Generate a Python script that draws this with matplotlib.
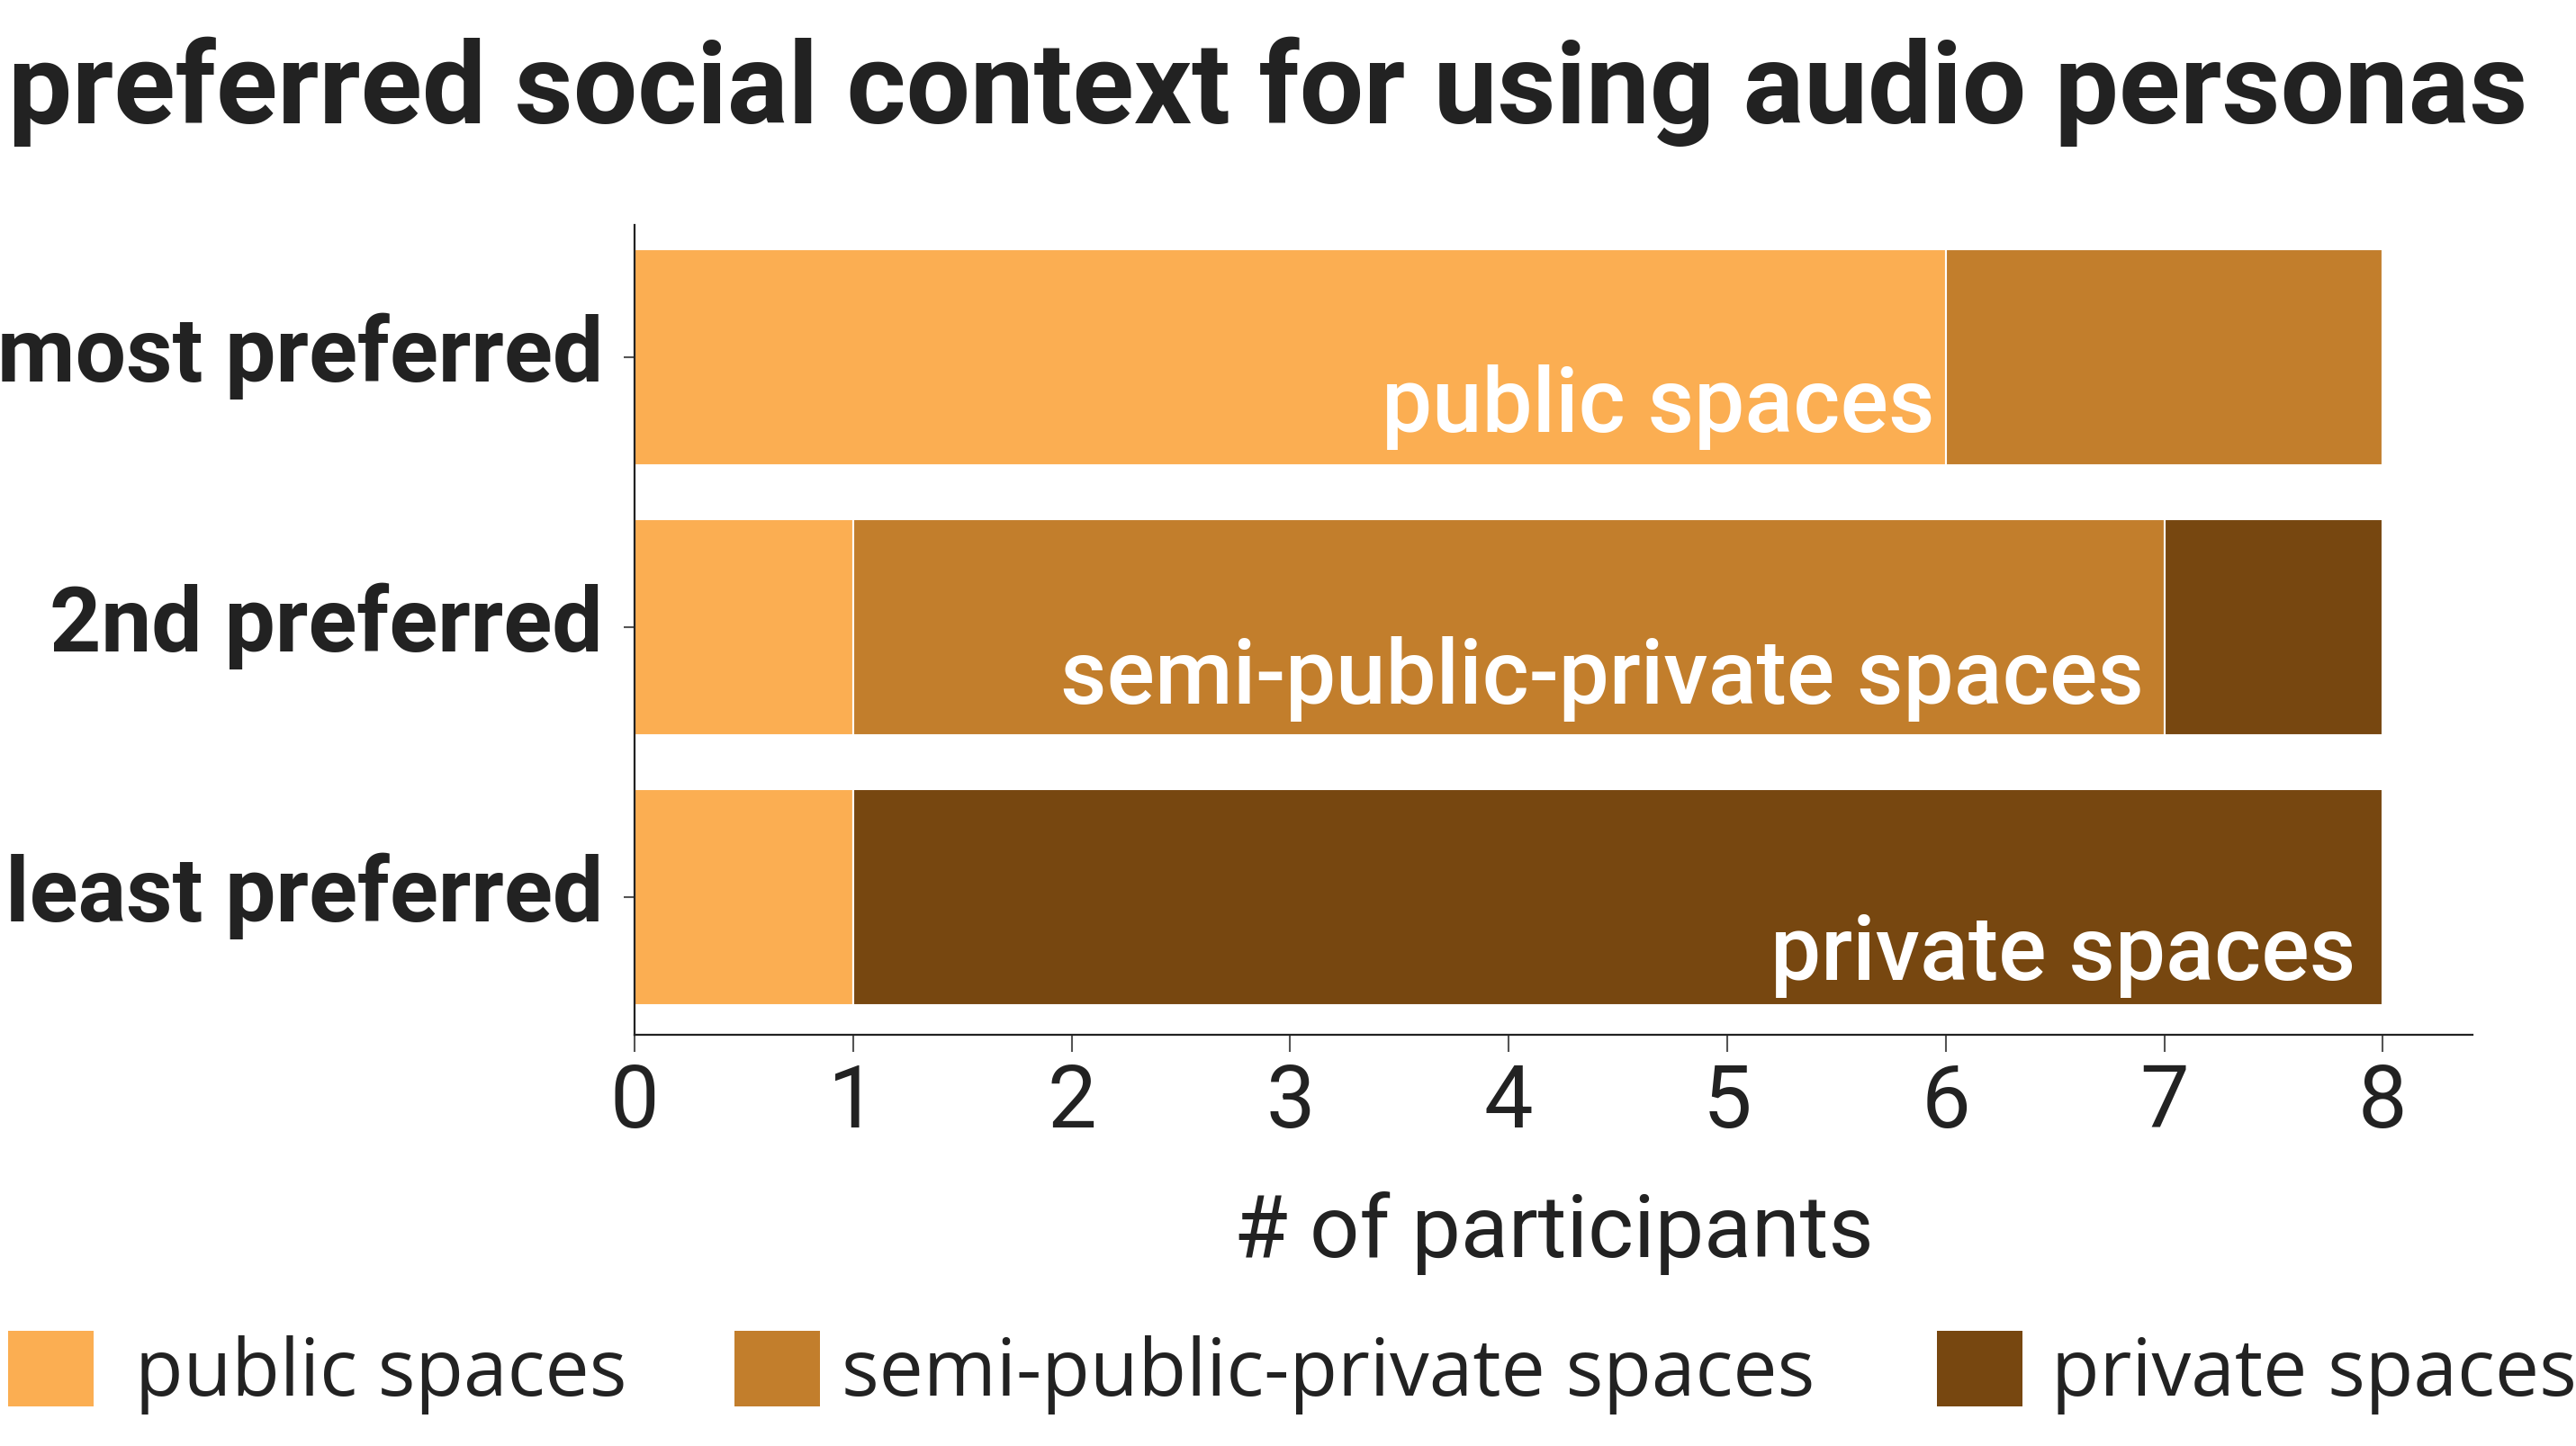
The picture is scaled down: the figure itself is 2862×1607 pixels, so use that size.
import matplotlib
matplotlib.use("Agg")
import matplotlib.pyplot as plt
from matplotlib.patches import Patch
from matplotlib.transforms import ScaledTranslation
import numpy as np

# ---- data ----
categories = ["most preferred", "2nd preferred", "least preferred"]
series_names = ["public spaces", "semi-public-private spaces", "private spaces"]
public = [6, 1, 1]
semi_public_private = [2, 6, 0]
private = [0, 1, 7]
x_ticks = [0, 1, 2, 3, 4, 5, 6, 7, 8]
title = "preferred social context for using audio personas"
x_label = "# of participants"

colors = ["#FBAE52", "#C27E2C", "#774710"]
text_color = "#222222"

# layout (offsets in points for in-bar labels, legend anchors in figure px)
label_offsets = [(-9, 27), (-16, 25), (-22, 20)]
legend_x_px = [9, 816, 2152]
legend_pads = [0.52, 0.27, 0.36]

plt.rcParams["font.family"] = ["Roboto", "DejaVu Sans"]

W, H = 2862, 1607
fig = plt.figure(figsize=(W / 100, H / 100), dpi=100)
ax = fig.add_axes([0.2463, 0.2844, 0.7135, 0.56])

y = np.arange(len(categories))
series = [public, semi_public_private, private]
left = np.zeros(len(categories))
ends = []
for vals, c, name in zip(series, colors, series_names):
    vals = np.array(vals, dtype=float)
    ax.barh(y, vals, left=left, height=0.8, color=c, edgecolor="white",
            linewidth=1.5, label=name)
    left = left + vals
    ends.append(left.copy())

# in-bar labels: row i labelled with series i, right-aligned at its end
for i, name in enumerate(series_names):
    ax.annotate(name, xy=(ends[i][i], y[i] + 0.4), xytext=label_offsets[i],
                textcoords="offset points", ha="right", va="baseline",
                color="white", fontsize=71.7, fontweight="medium")

ax.set_ylim(2.51, -0.49)
ax.set_xlim(0, 8.41)
ax.set_xticks(x_ticks)
ax.set_xticklabels([str(t) for t in x_ticks])
ax.set_yticks(y)
ax.set_yticklabels(categories)

for s in ["top", "right"]:
    ax.spines[s].set_visible(False)
for s in ["left", "bottom"]:
    ax.spines[s].set_color(text_color)
    ax.spines[s].set_linewidth(1.6)

ax.tick_params(axis="x", length=14, width=1.5, color="#555555", pad=8,
               labelsize=70, labelcolor=text_color)
ax.tick_params(axis="y", length=9, width=1.5, color="#555555", pad=16,
               labelsize=72, labelcolor=text_color)
shift = ScaledTranslation(0, 8 / 72, fig.dpi_scale_trans)
for lbl in ax.get_yticklabels():
    lbl.set_fontweight("bold")
    lbl.set_transform(lbl.get_transform() + shift)

ax.set_xlabel(x_label, fontsize=70, color=text_color, labelpad=37)

fig.text(9 / W, 1 - 137 / H, title, fontsize=91, fontweight="bold",
         color=text_color, ha="left", va="baseline")

for c, n, xpx, pad in zip(colors, series_names, legend_x_px, legend_pads):
    leg = fig.legend(handles=[Patch(facecolor=c, edgecolor="none", label=n)],
                     loc="lower left", bbox_to_anchor=(xpx / W, 0.0218),
                     frameon=False,
                     prop={"family": ["Open Sans", "DejaVu Sans"], "size": 63},
                     handlelength=1.09, handleheight=1.09, handletextpad=pad,
                     borderaxespad=0, borderpad=0, labelcolor=text_color)

fig.savefig("out.png", dpi=100)
